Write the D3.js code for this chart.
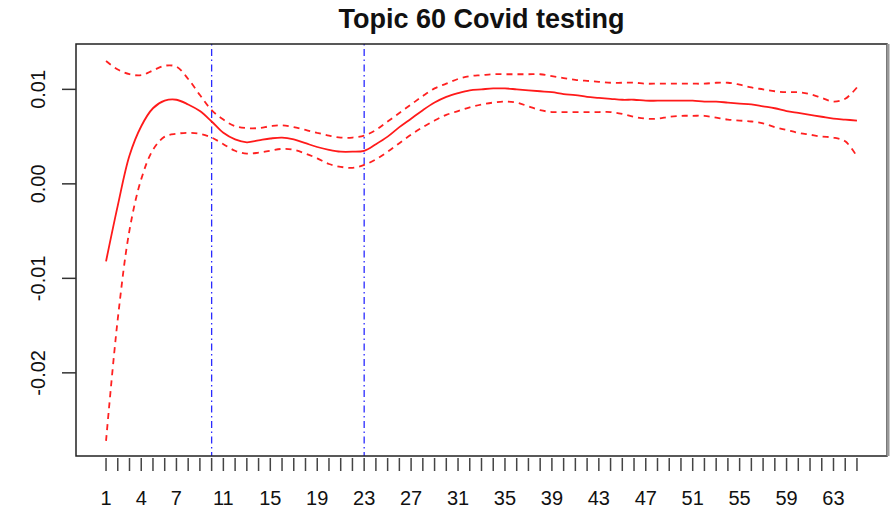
<!doctype html>
<html>
<head>
   <title>Topic 60 Covid testing</title>
   <style>
      body { margin: 0; background: #fff; }
      svg text { font-family: "Liberation Sans", Arial, sans-serif; fill: #111; }
   </style>
</head>
<script src="https://d3js.org/d3.v7.min.js"></script>
<script>
   var TITLE = "Topic 60 Covid testing";

   // week index 1..65
   var WEEKS = d3.range(1, 66);
   var X_LABELS = [1, 4, 7, 11, 15, 19, 23, 27, 31, 35, 39, 43, 47, 51, 55, 59, 63];
   var Y_TICKS = [-0.02, -0.01, 0.00, 0.01];
   var Y_LABELS = ["-0.02", "-0.01", "0.00", "0.01"];
   var VLINES = [10, 23];

   // estimated effect
   var EFFECT = [
      -0.0082, -0.0023, 0.0030, 0.0061, 0.0080, 0.0088, 0.0089, 0.0084, 0.0077, 0.0066,
       0.0054, 0.0047, 0.0044, 0.0046, 0.0048, 0.0049, 0.0047, 0.0043, 0.0039, 0.0036,
       0.0034, 0.0034, 0.0035, 0.0042, 0.0050, 0.0060, 0.0069, 0.0078, 0.0086, 0.0092,
       0.0096, 0.0099, 0.0100, 0.0101, 0.0101, 0.0100, 0.0099, 0.0098, 0.0097, 0.0095,
       0.0094, 0.0092, 0.0091, 0.0090, 0.0089, 0.0089, 0.0088, 0.0088, 0.0088, 0.0088,
       0.0088, 0.0087, 0.0087, 0.0086, 0.0085, 0.0084, 0.0082, 0.0080, 0.0077, 0.0075,
       0.0073, 0.0071, 0.0069, 0.0068, 0.0067
   ];

   // upper confidence bound
   var UPPER = [
       0.0130, 0.0121, 0.0116, 0.0115, 0.0120, 0.0125, 0.0124, 0.0111, 0.0094, 0.0078,
       0.0068, 0.0061, 0.0059, 0.0059, 0.0061, 0.0062, 0.0060, 0.0057, 0.0054, 0.0051,
       0.0049, 0.0049, 0.0051, 0.0057, 0.0066, 0.0075, 0.0084, 0.0093, 0.0101, 0.0106,
       0.0111, 0.0114, 0.0115, 0.0116, 0.0116, 0.0116, 0.0116, 0.0116, 0.0114, 0.0112,
       0.0110, 0.0109, 0.0108, 0.0107, 0.0107, 0.0107, 0.0106, 0.0106, 0.0106, 0.0106,
       0.0106, 0.0106, 0.0107, 0.0107, 0.0105, 0.0102, 0.0100, 0.0098, 0.0097, 0.0097,
       0.0095, 0.0091, 0.0087, 0.0090, 0.0102
   ];

   // lower confidence bound
   var LOWER = [
      -0.0272, -0.0143, -0.0049, 0.0005, 0.0036, 0.0050, 0.0053, 0.0054, 0.0053, 0.0049,
       0.0042, 0.0035, 0.0032, 0.0033, 0.0035, 0.0037, 0.0036, 0.0032, 0.0027, 0.0021,
       0.0018, 0.0017, 0.0020, 0.0026, 0.0034, 0.0043, 0.0052, 0.0060, 0.0067, 0.0073,
       0.0077, 0.0081, 0.0084, 0.0086, 0.0087, 0.0086, 0.0082, 0.0078, 0.0076, 0.0076,
       0.0076, 0.0076, 0.0076, 0.0076, 0.0074, 0.0071, 0.0069, 0.0069, 0.0071, 0.0072,
       0.0072, 0.0072, 0.0070, 0.0068, 0.0067, 0.0066, 0.0064, 0.0060, 0.0057, 0.0054,
       0.0052, 0.0050, 0.0049, 0.0045, 0.0029
   ];

   function draw()
   {
      const svg = d3.select("svg");
      const left = 76, right = 887, top = 44, bottom = 456;

      const xs = d3.scaleLinear().domain([-1.56, 67.56]).range([left, right]);
      const ys = d3.scaleLinear().domain([-0.0288, 0.0148]).range([bottom, top]);

      svg.append("text")
         .attr("x", (left + right) / 2)
         .attr("y", 28)
         .attr("text-anchor", "middle")
         .style("font-size", "27px")
         .style("font-weight", "bold")
         .text(TITLE);

      // vertical reference lines
      svg.append("g")
         .selectAll("line")
            .data(VLINES)
            .enter()
               .append("line")
                  .attr("x1", function(d) { return xs(d); })
                  .attr("x2", function(d) { return xs(d); })
                  .attr("y1", top)
                  .attr("y2", bottom)
                  .attr("stroke", "#2a2aff")
                  .attr("stroke-width", 1.3)
                  .attr("stroke-dasharray", "1.5,3.5,7,3.5");

      const line = function(vals) {
         return d3.line()
            .x(function(d, i) { return xs(WEEKS[i]); })
            .y(function(d) { return ys(d); })
            .curve(d3.curveCatmullRom.alpha(0.5))(vals);
      };

      svg.append("path")
         .attr("d", line(EFFECT))
         .attr("fill", "none")
         .attr("stroke", "#ff1a1a")
         .attr("stroke-width", 1.8);

      [UPPER, LOWER].forEach(function(vals) {
         svg.append("path")
            .attr("d", line(vals))
            .attr("fill", "none")
            .attr("stroke", "#ff2020")
            .attr("stroke-width", 1.8)
            .attr("stroke-dasharray", "6,5");
      });

      // box
      svg.append("rect")
         .attr("x", left)
         .attr("y", top)
         .attr("width", right - left)
         .attr("height", bottom - top)
         .attr("fill", "none")
         .attr("stroke", "#222")
         .attr("stroke-width", 1.5);
      svg.append("line")
         .attr("x1", right + 1).attr("x2", right + 1)
         .attr("y1", top).attr("y2", bottom)
         .attr("stroke", "#999")
         .attr("stroke-width", 3);

      // x ticks (every week) and labels
      svg.append("g")
         .selectAll("line")
            .data(WEEKS)
            .enter()
               .append("line")
                  .attr("x1", function(d) { return xs(d); })
                  .attr("x2", function(d) { return xs(d); })
                  .attr("y1", 458)
                  .attr("y2", 471)
                  .attr("stroke", "#444")
                  .attr("stroke-width", 1.5);

      svg.append("g")
         .selectAll("text")
            .data(X_LABELS)
            .enter()
               .append("text")
                  .attr("x", function(d) { return xs(d); })
                  .attr("y", 505)
                  .attr("text-anchor", "middle")
                  .style("font-size", "20px")
                  .text(function(d) { return d; });

      // y ticks and rotated labels
      svg.append("g")
         .selectAll("line")
            .data(Y_TICKS)
            .enter()
               .append("line")
                  .attr("x1", 62)
                  .attr("x2", left)
                  .attr("y1", function(d) { return ys(d); })
                  .attr("y2", function(d) { return ys(d); })
                  .attr("stroke", "#333")
                  .attr("stroke-width", 1.5);

      svg.append("g")
         .selectAll("text")
            .data(Y_TICKS)
            .enter()
               .append("text")
                  .attr("transform", function(d) { return "translate(45," + ys(d) + ") rotate(-90)"; })
                  .attr("text-anchor", "middle")
                  .style("font-size", "20px")
                  .text(function(d, i) { return Y_LABELS[i]; });
   }
</script>
<body onload="draw()">
   <svg width="896" height="512"></svg>
</body>
</html>
